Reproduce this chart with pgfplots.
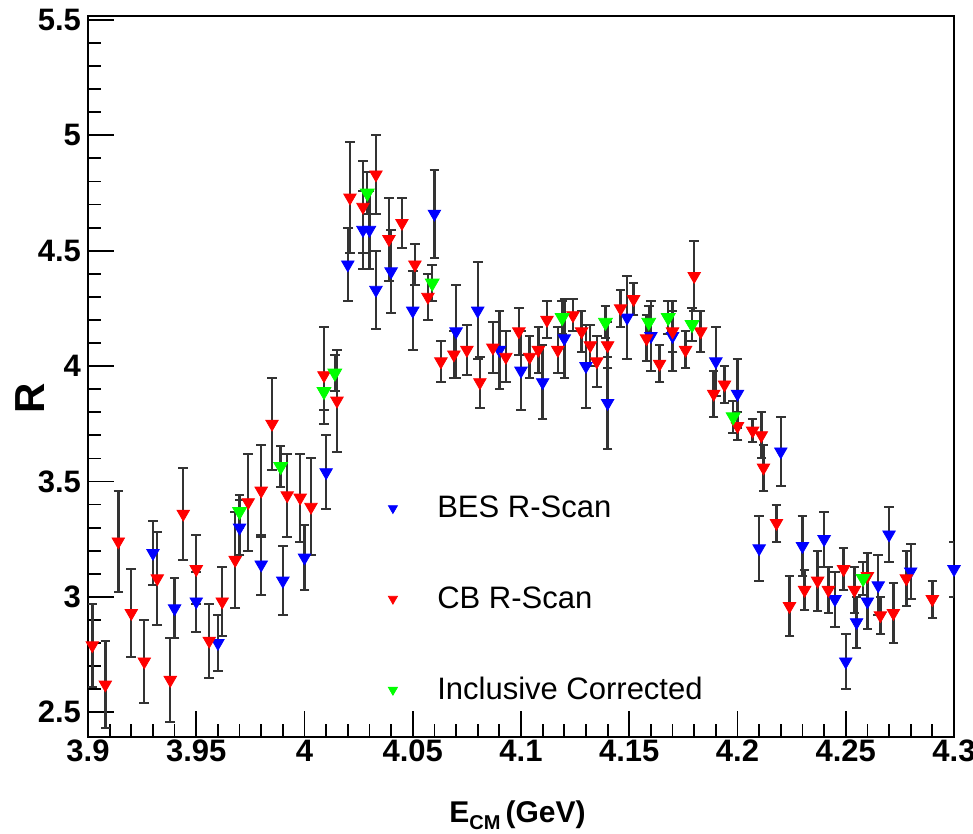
\documentclass[border=0pt]{standalone}
\usepackage{fontspec}
\setmainfont{Liberation Sans}
\usepackage{pgfplots}
\pgfplotsset{compat=1.18}
\usepackage{pgfplotstable}

% x  y  err
\pgfplotstableread{
x y e
3.930 3.19 0.14
3.940 2.95 0.13
3.950 2.98 0.13
3.960 2.80 0.12
3.970 3.30 0.12
3.980 3.14 0.13
3.990 3.07 0.15
4.000 3.17 0.14
4.010 3.54 0.16
4.020 4.44 0.16
4.027 4.59 0.17
4.030 4.59 0.17
4.033 4.33 0.17
4.040 4.41 0.18
4.050 4.24 0.17
4.060 4.66 0.19
4.070 4.15 0.20
4.080 4.24 0.21
4.090 4.07 0.17
4.100 3.98 0.17
4.110 3.93 0.16
4.120 4.12 0.17
4.130 4.00 0.18
4.140 3.84 0.20
4.149 4.21 0.18
4.160 4.13 0.15
4.170 4.13 0.15
4.190 4.02 0.15
4.200 3.88 0.15
4.210 3.21 0.14
4.220 3.63 0.15
4.230 3.22 0.13
4.240 3.25 0.12
4.245 2.99 0.12
4.250 2.72 0.12
4.255 2.89 0.11
4.260 2.98 0.12
4.265 3.05 0.13
4.270 3.27 0.12
4.280 3.11 0.12
4.300 3.12 0.12
}\bes

\pgfplotstableread{
x y e
3.902 2.79 0.18
3.908 2.62 0.19
3.914 3.24 0.22
3.920 2.93 0.19
3.926 2.72 0.18
3.932 3.08 0.20
3.938 2.64 0.18
3.944 3.36 0.20
3.950 3.12 0.15
3.956 2.81 0.16
3.962 2.98 0.15
3.968 3.16 0.21
3.974 3.41 0.21
3.980 3.46 0.20
3.985 3.75 0.20
3.992 3.44 0.18
3.998 3.43 0.19
4.003 3.39 0.21
4.009 3.96 0.21
4.015 3.85 0.22
4.021 4.73 0.24
4.027 4.69 0.20
4.033 4.83 0.17
4.039 4.55 0.18
4.045 4.62 0.11
4.051 4.44 0.09
4.057 4.30 0.10
4.063 4.02 0.09
4.069 4.05 0.10
4.075 4.07 0.11
4.081 3.93 0.11
4.087 4.08 0.11
4.093 4.04 0.11
4.099 4.15 0.10
4.104 4.04 0.09
4.108 4.07 0.10
4.112 4.20 0.08
4.117 4.07 0.10
4.124 4.22 0.07
4.128 4.15 0.09
4.132 4.09 0.09
4.135 4.02 0.11
4.140 4.09 0.10
4.146 4.25 0.08
4.152 4.29 0.07
4.158 4.12 0.10
4.164 4.01 0.08
4.170 4.15 0.09
4.176 4.07 0.08
4.180 4.39 0.15
4.183 4.15 0.09
4.189 3.88 0.10
4.194 3.92 0.08
4.200 3.74 0.06
4.207 3.72 0.05
4.211 3.70 0.10
4.212 3.56 0.10
4.218 3.32 0.08
4.224 2.96 0.13
4.231 3.03 0.085
4.237 3.07 0.13
4.242 3.03 0.10
4.249 3.12 0.09
4.254 3.03 0.10
4.260 3.09 0.10
4.266 2.92 0.08
4.272 2.93 0.13
4.278 3.08 0.12
4.290 2.99 0.08
}\cb

\pgfplotstableread{
x y e
3.970 3.37 0.07
3.989 3.565 0.09
4.009 3.89 0.08
4.014 3.97 0.08
4.029 4.75 0.09
4.059 4.36 0.08
4.119 4.21 0.07
4.139 4.19 0.07
4.159 4.19 0.07
4.168 4.21 0.07
4.179 4.18 0.07
4.198 3.78 0.07
4.258 3.08 0.07
}\incl

\begin{document}
\begin{tikzpicture}
\begin{axis}[
  scale only axis,
  width=433pt, height=360.5pt,
  xmin=3.9, xmax=4.3,
  ymin=2.393, ymax=5.517,
  xtick={3.9,3.95,4,4.05,4.1,4.15,4.2,4.25,4.3},
  ytick={2.5,3,3.5,4,4.5,5,5.5},
  minor x tick num=4,
  minor y tick num=4,
  xtick pos=left, ytick pos=left,
  tick align=inside,
  major tick length=13pt,
  minor tick length=6.5pt,
  tick style={black, line width=0.9pt},
  axis line style={black, line width=1pt},
  /pgf/number format/assume math mode=true,
  ticklabel style={font=\bfseries\fontsize{15.5}{18}\selectfont},
  xticklabel style={yshift=2pt},
  xlabel={\bfseries E\raisebox{-0.45ex}{\fontsize{10}{11}\selectfont CM}\,(GeV)},
  xlabel style={font=\fontsize{15}{18}\selectfont, at={(axis description cs:0.496,-0.108)}, anchor=center},
  ylabel={\bfseries R},
  ylabel style={font=\fontsize{21}{24}\selectfont, at={(axis description cs:-0.067,0.47)}, anchor=center},
  error bars/y dir=both,
  error bars/y explicit,
  error bars/error bar style={black!80, line width=1.2pt},
  error bars/error mark options={rotate=90, mark size=2.4pt, black!80, line width=1pt},
  legend style={draw=none, fill=none, at={(axis description cs:0.335,0.346)}, anchor=north west,
    font=\fontsize{15.5}{18}\selectfont, row sep=29pt},
  legend cell align=left,
  legend image code/.code={\draw[#1, mark size=2.6pt] plot coordinates {(0pt,0pt)}; \path (-4pt,0pt) (20pt,0pt);},
]
\addplot+[only marks, mark=triangle*, mark size=3.6pt, mark options={rotate=180, fill=blue, draw=blue}]
  table[x=x, y=y, y error=e] {\bes};
\addlegendentry{BES R-Scan}
\addplot+[only marks, mark=triangle*, mark size=3.6pt, mark options={rotate=180, fill=red, draw=red}]
  table[x=x, y=y, y error=e] {\cb};
\addlegendentry{CB R-Scan}
\addplot+[only marks, mark=triangle*, mark size=4pt, mark options={rotate=180, fill=green, draw=green}]
  table[x=x, y=y, y error=e] {\incl};
\addlegendentry{Inclusive Corrected}
\end{axis}
\pgfresetboundingbox
\path (current axis.south west) ++(-44pt,-48.5pt) coordinate (bbA);
\path (current axis.north east) ++(9.5pt,8pt) coordinate (bbB);
\path (bbA) rectangle (bbB);
\end{tikzpicture}
\end{document}
